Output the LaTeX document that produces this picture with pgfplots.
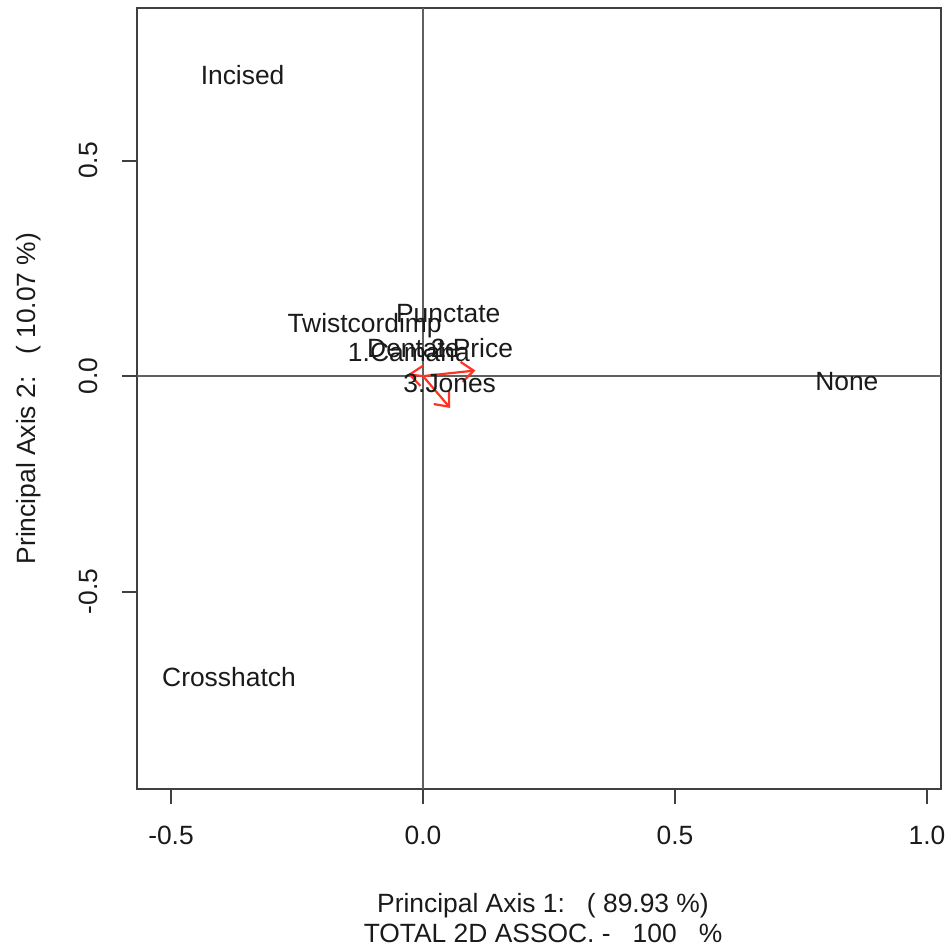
\documentclass[border=0pt]{standalone}
\usepackage{pgfplots}
\pgfplotsset{compat=1.18}
\usepackage{fontspec}
\setmainfont{Liberation Sans}
\usetikzlibrary{arrows.meta}
\definecolor{boxgray}{HTML}{404040}
\definecolor{linegray}{HTML}{606060}
\definecolor{arrowred}{HTML}{FF3322}
\definecolor{txt}{HTML}{1A1A1A}
\begin{document}
\begin{tikzpicture}
\fontsize{13.2bp}{15bp}\selectfont
\useasboundingbox (-68.5bp,-81bp) rectangle (407bp,394.5bp);
\begin{axis}[
  at={(0,0)}, anchor=south west,
  scale only axis, width=402bp, height=390.5bp,
  xmin=-0.5675, xmax=1.0278, ymin=-0.958, ymax=0.854,
  axis line style={boxgray, line width=1bp},
  xtick={-0.5,0,0.5,1}, xticklabels={-0.5,0.0,0.5,1.0},
  ytick={-0.5,0,0.5}, yticklabels={-0.5,0.0,0.5},
  tick align=outside, tick pos=left,
  major tick length=7.5bp,
  every tick/.style={boxgray, line width=1bp},
  /pgf/number format/assume math mode=true,
  xticklabel style={anchor=base, text=txt, font=\fontsize{13.2bp}{15bp}\selectfont, yshift=-20bp},
  yticklabel style={rotate=90, anchor=base, text=txt, font=\fontsize{13.2bp}{15bp}\selectfont, yshift=12bp},
  xlabel={Principal Axis 1:\ \ \ ( 89.93 \%)\\TOTAL 2D ASSOC. -\ \ \ 100\ \ \ \%},
  ylabel={Principal Axis 2:\ \ \ ( 10.07 \%)},
  xlabel style={at={(axis description cs:0.5,0)}, anchor=base, yshift=-76.5bp, xshift=2bp, align=center, text=txt, font=\fontsize{13.2bp}{15bp}\selectfont},
  ylabel style={at={(axis description cs:0,0.5)}, rotate=0, anchor=base, yshift=50.5bp, text=txt, font=\fontsize{13.2bp}{15bp}\selectfont},
  clip=false,
]
\addplot[linegray, line width=1bp] coordinates {(-0.5675,0) (1.0278,0)};
\addplot[linegray, line width=1bp] coordinates {(0,-0.958) (0,0.854)};
\addplot[arrowred, line width=1.1bp, -{Straight Barb[length=6bp,width=10bp]}] coordinates {(0,0) (-0.030,0.004)};
\addplot[arrowred, line width=1.1bp, -{Straight Barb[length=6bp,width=10bp]}] coordinates {(0,0) (0.104,0.013)};
\addplot[arrowred, line width=1.1bp, -{Straight Barb[length=6bp,width=10bp]}] coordinates {(0,0) (0.054,-0.074)};
\addplot[only marks, mark=none, nodes near coords, point meta=explicit symbolic,
  nodes near coords style={anchor=center, text=txt, inner sep=0pt, font=\fontsize{13.2bp}{15bp}\selectfont}]
  coordinates {
  (-0.358,0.698) [Incised]
  (-0.385,-0.698) [Crosshatch]
  (0.841,-0.012) [None]
  (-0.116,0.116) [Twistcordimp]
  (0.050,0.144) [Punctate]
  (-0.028,0.056) [1.Camana]
  (-0.019,0.065) [Dentate]
  (0.097,0.065) [2.Price]
  (0.053,-0.016) [3.Jones]
  };
\end{axis}
\end{tikzpicture}
\end{document}
